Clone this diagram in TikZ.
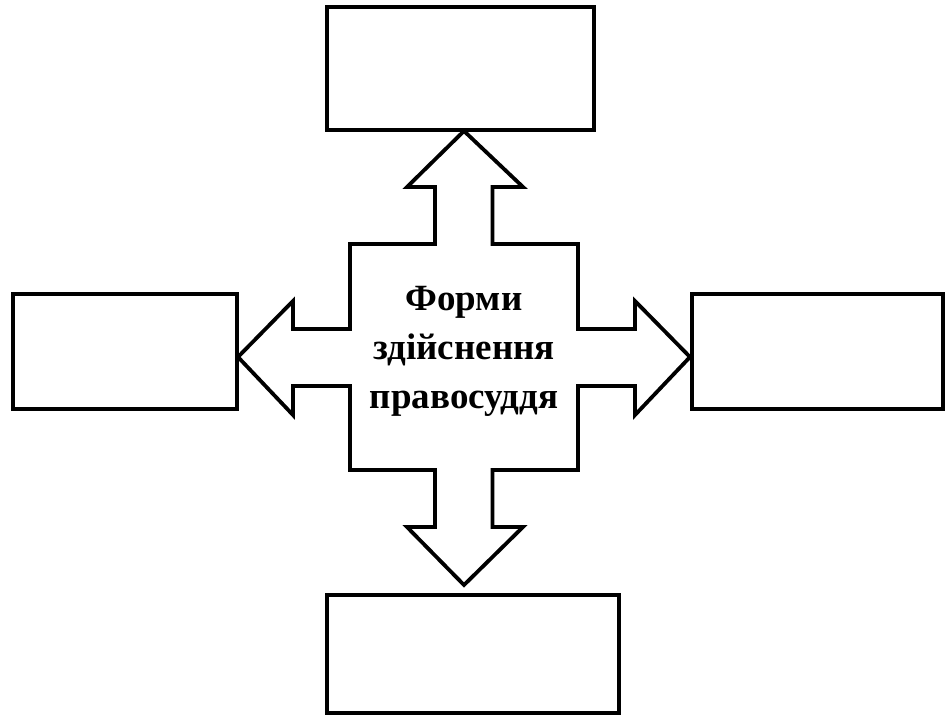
\documentclass[tikz,border=0pt]{standalone}
\usepackage{fontspec}
\setmainfont{Liberation Serif}
\begin{document}
\begin{tikzpicture}[x=1pt,y=1pt,
  emptybox/.style={draw,line width=3.8pt,rectangle,inner sep=0pt},
  crossarrow/.style={draw,line width=3.8pt,line join=miter,fill=white}]
\useasboundingbox (-464,-358) rectangle (485,357);
\node[emptybox,minimum width=266.7pt,minimum height=122.7pt] (top) at (-3.3,288.3) {};
\node[emptybox,minimum width=224pt,minimum height=115.3pt] (left) at (-338.7,5.3) {};
\node[emptybox,minimum width=251.6pt,minimum height=115pt] (right) at (353.5,5.2) {};
\node[emptybox,minimum width=292pt,minimum height=118.3pt] (bottom) at (9.3,-297.2) {};
\draw[crossarrow] (0,226) -- (59,170) -- (28.5,170) -- (28.5,113) -- (114,113) -- (114,28)
  -- (171,28) -- (171,56) -- (226,0) -- (171,-58) -- (171,-29) -- (114,-29)
  -- (114,-113) -- (28.5,-113) -- (28.5,-170) -- (59,-170) -- (0,-228)
  -- (-57,-170) -- (-29,-170) -- (-29,-113) -- (-114,-113) -- (-114,-29)
  -- (-171,-29) -- (-171,-58) -- (-226,0) -- (-171,56) -- (-171,28) -- (-114,28)
  -- (-114,113) -- (-29,113) -- (-29,170) -- (-57,170) -- cycle;
\node[align=center,font=\fontsize{37}{49}\selectfont\bfseries,inner sep=0pt] (centre) at (0,6) {Форми\\здійснення\\правосуддя};
\end{tikzpicture}
\end{document}
